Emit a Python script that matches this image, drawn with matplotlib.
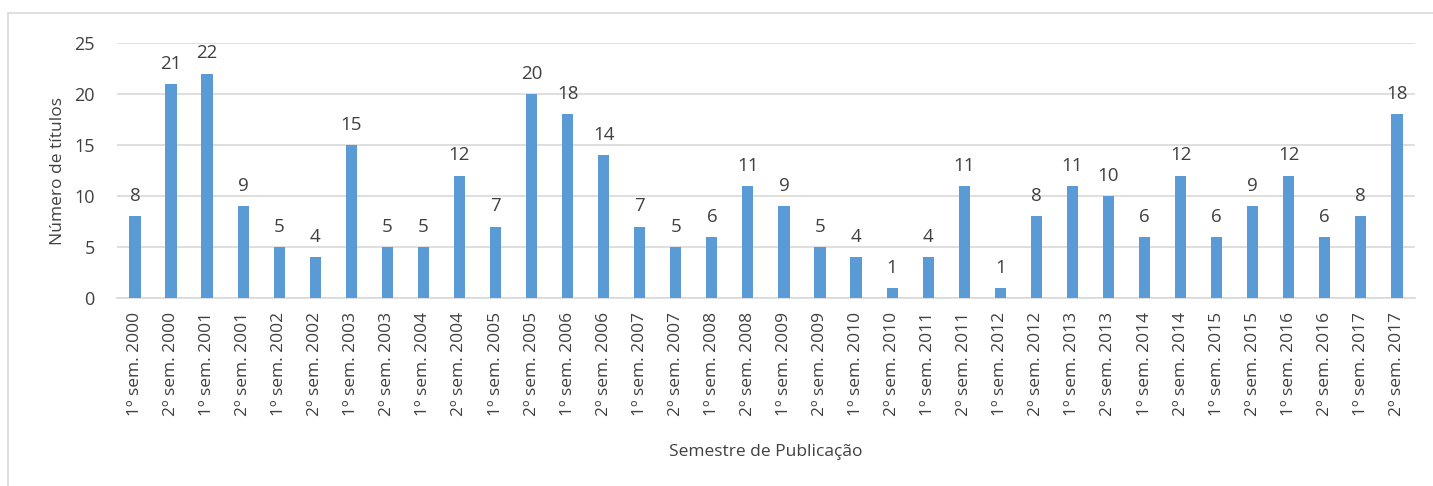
import matplotlib
matplotlib.use('Agg')
import matplotlib.pyplot as plt
import numpy as np

# Data
years = list(range(2000, 2018))
labels = []
for y in years:
    labels.append('1º sem. %d' % y)
    labels.append('2º sem. %d' % y)

titulos = [8, 21, 22, 9, 5, 4, 15, 5, 5, 12, 7, 20, 18, 14, 7, 5, 6, 11,
           9, 5, 4, 1, 4, 11, 1, 8, 11, 10, 6, 12, 6, 9, 12, 6, 8, 18]

plt.rcParams['font.family'] = ['Open Sans', 'DejaVu Sans']
txt = '#404040'

fig = plt.figure(figsize=(14.33, 4.86), dpi=100)
ax = fig.add_axes([0.0816, 0.3868, 0.9058, 0.5247])

# outer chart border
fig.patches.append(plt.Rectangle((8/1433, -0.1), 1.1, 1 - 13/486 + 0.1,
                                 transform=fig.transFigure, fill=False,
                                 edgecolor='#d9d9d9', linewidth=1.2))

x = np.arange(len(titulos))
bars = ax.bar(x, titulos, width=0.31, color='#5b9bd5', zorder=3)
for xi, v in zip(x, titulos):
    ax.text(xi, v + 1.1, str(v), ha='center', va='bottom', fontsize=13.5, color=txt)

ax.set_xlim(-0.5, len(titulos) - 0.5)
ax.set_ylim(0, 25)
ax.set_yticks([0, 5, 10, 15, 20, 25])
ax.yaxis.grid(True, color='#d9d9d9', linewidth=1.2, zorder=0)
for s in ['top', 'right', 'left']:
    ax.spines[s].set_visible(False)
ax.spines['bottom'].set_color('#d9d9d9')
ax.spines['bottom'].set_linewidth(1.2)
ax.tick_params(axis='both', length=0, colors=txt)
ax.tick_params(axis='y', pad=16, labelsize=13)
ax.tick_params(axis='x', pad=10)
ax.set_xticks(x)
ax.set_xticklabels(labels, rotation=90, fontsize=12.5)

ax.set_ylabel('Número de títulos', fontsize=12.5, color=txt, labelpad=6)
ax.set_xlabel('Semestre de Publicação', fontsize=12.5, color=txt, labelpad=20)

fig.savefig('out.png', dpi=100)
